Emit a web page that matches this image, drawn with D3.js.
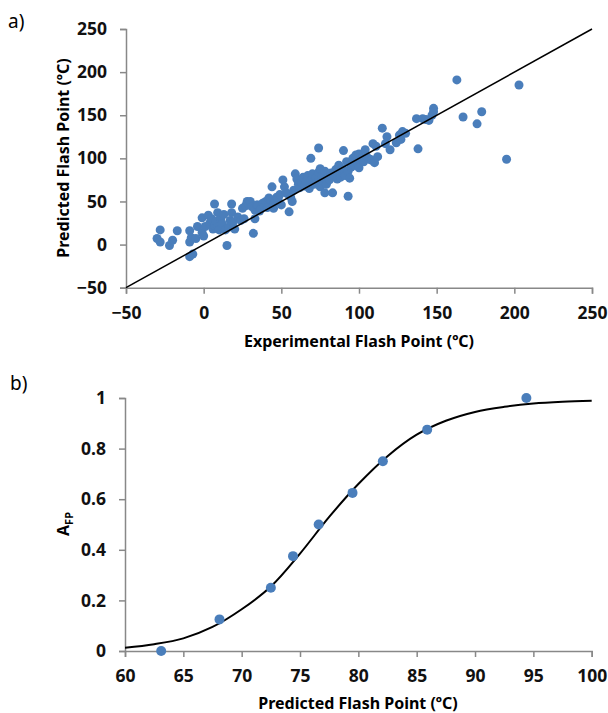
<!DOCTYPE html>
<html>
<head>
<meta charset="utf-8">
<script src="https://cdn.jsdelivr.net/npm/d3@7"></script>
<style>
  body { margin: 0; background: #fff; }
  svg { display: block; }
  text { font-family: "Noto Sans", "Open Sans", sans-serif; }
  .axis path, .axis line { stroke: #888; stroke-width: 1.5; }
  .axis text { font-size: 17.5px; font-weight: bold; fill: #111; }
</style>
</head>
<body>
<div id="chart"></div>
<script>
// panel a) experimental vs predicted flash point (degC)
const expFP = [
  -30, -28, -28, -22, -20, -17, -9, -9, -8, -9, -7, -5, -4, -1, -1, 1, 0,
  3, 4, 5, 6, 7, 7, 8, 9, 9, 10, 11, 12, 13, 14, 15, 16, 17, 18, 18, 19, 20, 22, 24, 26, 25,
  27, 28, 29, 30, 31, 32, 33, 33, 34, 35, 36, 37, 38, 39, 40, 41, 42, 43, 44, 45, 45, 46, 47, 48, 49,
  50, 51, 52, 53, 54, 55, 56, 57, 58, 59, 60,
  61, 62, 63, 64, 65, 66, 67, 68, 69, 69, 70, 71, 72, 73, 74, 74, 75, 75, 76, 77, 78, 78, 79, 80,
  81, 82, 83, 84, 85, 86, 87, 88, 89, 90, 90, 91, 92, 93, 93, 94, 95, 96, 97, 98, 99, 100, 100,
  101, 102, 103, 104, 105, 107, 108, 109, 110, 111, 112, 115, 117, 118, 120, 124, 126, 127, 128, 130,
  137, 138, 141, 143, 145, 147, 148, 148, 163, 167, 176, 179, 195, 203
];
const predFP = [
  7, 17, 3, -1, 5, 16, 16, 3, 8, -14, -11, 7, 21, 31, 14, 21, 10,
  34, 25, 30, 18, 47, 22, 27, 37, 20, 17, 30, 24, 35, 17, -1, 20, 28, 47, 37, 26, 18, 32, 28, 30, 42,
  45, 50, 47, 50, 44, 13, 30, 40, 46, 46, 39, 42, 48, 44, 50, 43, 54, 52, 67, 42, 47, 50, 55, 53, 58,
  46, 75, 67, 60, 59, 38, 55, 50, 63, 82, 76,
  70, 66, 72, 78, 68, 73, 80, 65, 75, 100, 82, 70, 77, 72, 112, 84, 88, 67, 79, 74, 60, 85, 70, 78,
  75, 83, 60, 80, 87, 76, 92, 78, 84, 109, 87, 80, 96, 56, 85, 77, 90, 100, 92, 104, 95, 89, 105,
  98, 100, 96, 110, 102, 99, 98, 117, 95, 114, 102, 135, 117, 125, 110, 118, 127, 122, 131, 129,
  146, 111, 146, 145, 144, 150, 158, 154, 191, 148, 140, 154, 99, 185
];
const parityLine = [-50, 250];
const ticksA = [-50, 0, 50, 100, 150, 200, 250];

// panel b) A_FP vs predicted flash point
const predB = [63.1, 68.1, 72.5, 74.4, 76.6, 79.5, 82.1, 85.9, 94.4];
const afpB = [0, 0.125, 0.25, 0.375, 0.5, 0.625, 0.75, 0.875, 1];
const curveX = [60, 62.5, 65, 67.5, 70, 72.5, 75, 77.5, 80, 82.5, 85, 87.5, 90, 92.5, 95, 97.5, 100];
const curveY = [0.013, 0.027, 0.05, 0.095, 0.165, 0.255, 0.385, 0.53, 0.66, 0.77, 0.855, 0.91, 0.945, 0.965, 0.978, 0.985, 0.989];
const ticksBx = [60, 65, 70, 75, 80, 85, 90, 95, 100];
const ticksBy = [0, 0.2, 0.4, 0.6, 0.8, 1];

const dotColor = "#4a7ebb";

const svg = d3.select("#chart").append("svg")
  .attr("width", 608)
  .attr("height", 713);

// ---- panel a ----
const xA = d3.scaleLinear().domain([-50, 250]).range([126, 592]);
const yA = d3.scaleLinear().domain([-50, 250]).range([287.7, 29]);

svg.append("g")
  .attr("class", "axis")
  .attr("transform", `translate(0,${yA(-50)})`)
  .call(d3.axisBottom(xA).tickValues(ticksA).tickSizeOuter(0).tickSize(6).tickPadding(13));

svg.append("g")
  .attr("class", "axis")
  .attr("transform", `translate(${xA(-50)},0)`)
  .call(d3.axisLeft(yA).tickValues(ticksA).tickSizeOuter(0).tickSize(6).tickPadding(13));

svg.append("g")
  .selectAll("circle")
  .data(expFP.map((d, i) => [d, predFP[i]]))
  .enter()
  .append("circle")
  .attr("cx", (d) => xA(d[0]))
  .attr("cy", (d) => yA(d[1]))
  .attr("r", 4.5)
  .attr("fill", dotColor);

svg.append("line")
  .attr("x1", xA(parityLine[0]))
  .attr("y1", yA(parityLine[0]))
  .attr("x2", xA(parityLine[1]))
  .attr("y2", yA(parityLine[1]))
  .attr("stroke", "#000")
  .attr("stroke-width", 1.5);

svg.append("text")
  .attr("x", 359)
  .attr("y", 347)
  .attr("text-anchor", "middle")
  .style("font-size", "16px")
  .style("font-weight", "bold")
  .text("Experimental Flash Point (ºC)");

svg.append("text")
  .attr("transform", `translate(69,158) rotate(-90)`)
  .attr("text-anchor", "middle")
  .style("font-size", "16px")
  .style("font-weight", "bold")
  .text("Predicted Flash Point (ºC)");

svg.append("text")
  .attr("x", 8)
  .attr("y", 28)
  .style("font-size", "19px")
  .text("a)");

// ---- panel b ----
const xB = d3.scaleLinear().domain([60, 100]).range([125, 591.7]);
const yB = d3.scaleLinear().domain([0, 1]).range([651, 398]);

svg.append("g")
  .attr("class", "axis")
  .attr("transform", `translate(0,${yB(0)})`)
  .call(d3.axisBottom(xB).tickValues(ticksBx).tickSizeOuter(0).tickSize(6).tickPadding(13));

svg.append("g")
  .attr("class", "axis")
  .attr("transform", `translate(${xB(60)},0)`)
  .call(d3.axisLeft(yB).tickValues(ticksBy).tickFormat(d3.format("")).tickSizeOuter(0).tickSize(6).tickPadding(13));

const line = d3.line()
  .x((d) => xB(d[0]))
  .y((d) => yB(d[1]))
  .curve(d3.curveCatmullRom);

svg.append("path")
  .datum(curveX.map((d, i) => [d, curveY[i]]))
  .attr("d", line)
  .attr("fill", "none")
  .attr("stroke", "#000")
  .attr("stroke-width", 2);

svg.append("g")
  .selectAll("circle")
  .data(predB.map((d, i) => [d, afpB[i]]))
  .enter()
  .append("circle")
  .attr("cx", (d) => xB(d[0]))
  .attr("cy", (d) => yB(d[1]))
  .attr("r", 5)
  .attr("fill", dotColor);

svg.append("text")
  .attr("x", 358)
  .attr("y", 709)
  .attr("text-anchor", "middle")
  .style("font-size", "16px")
  .style("font-weight", "bold")
  .text("Predicted Flash Point (ºC)");

const afpLabel = svg.append("text")
  .attr("transform", `translate(69,524) rotate(-90)`)
  .attr("text-anchor", "middle")
  .style("font-size", "16px")
  .style("font-weight", "bold");
afpLabel.append("tspan").text("A");
afpLabel.append("tspan").attr("dy", 4).style("font-size", "11px").text("FP");

svg.append("text")
  .attr("x", 10)
  .attr("y", 390)
  .style("font-size", "19px")
  .text("b)");
</script>
</body>
</html>
